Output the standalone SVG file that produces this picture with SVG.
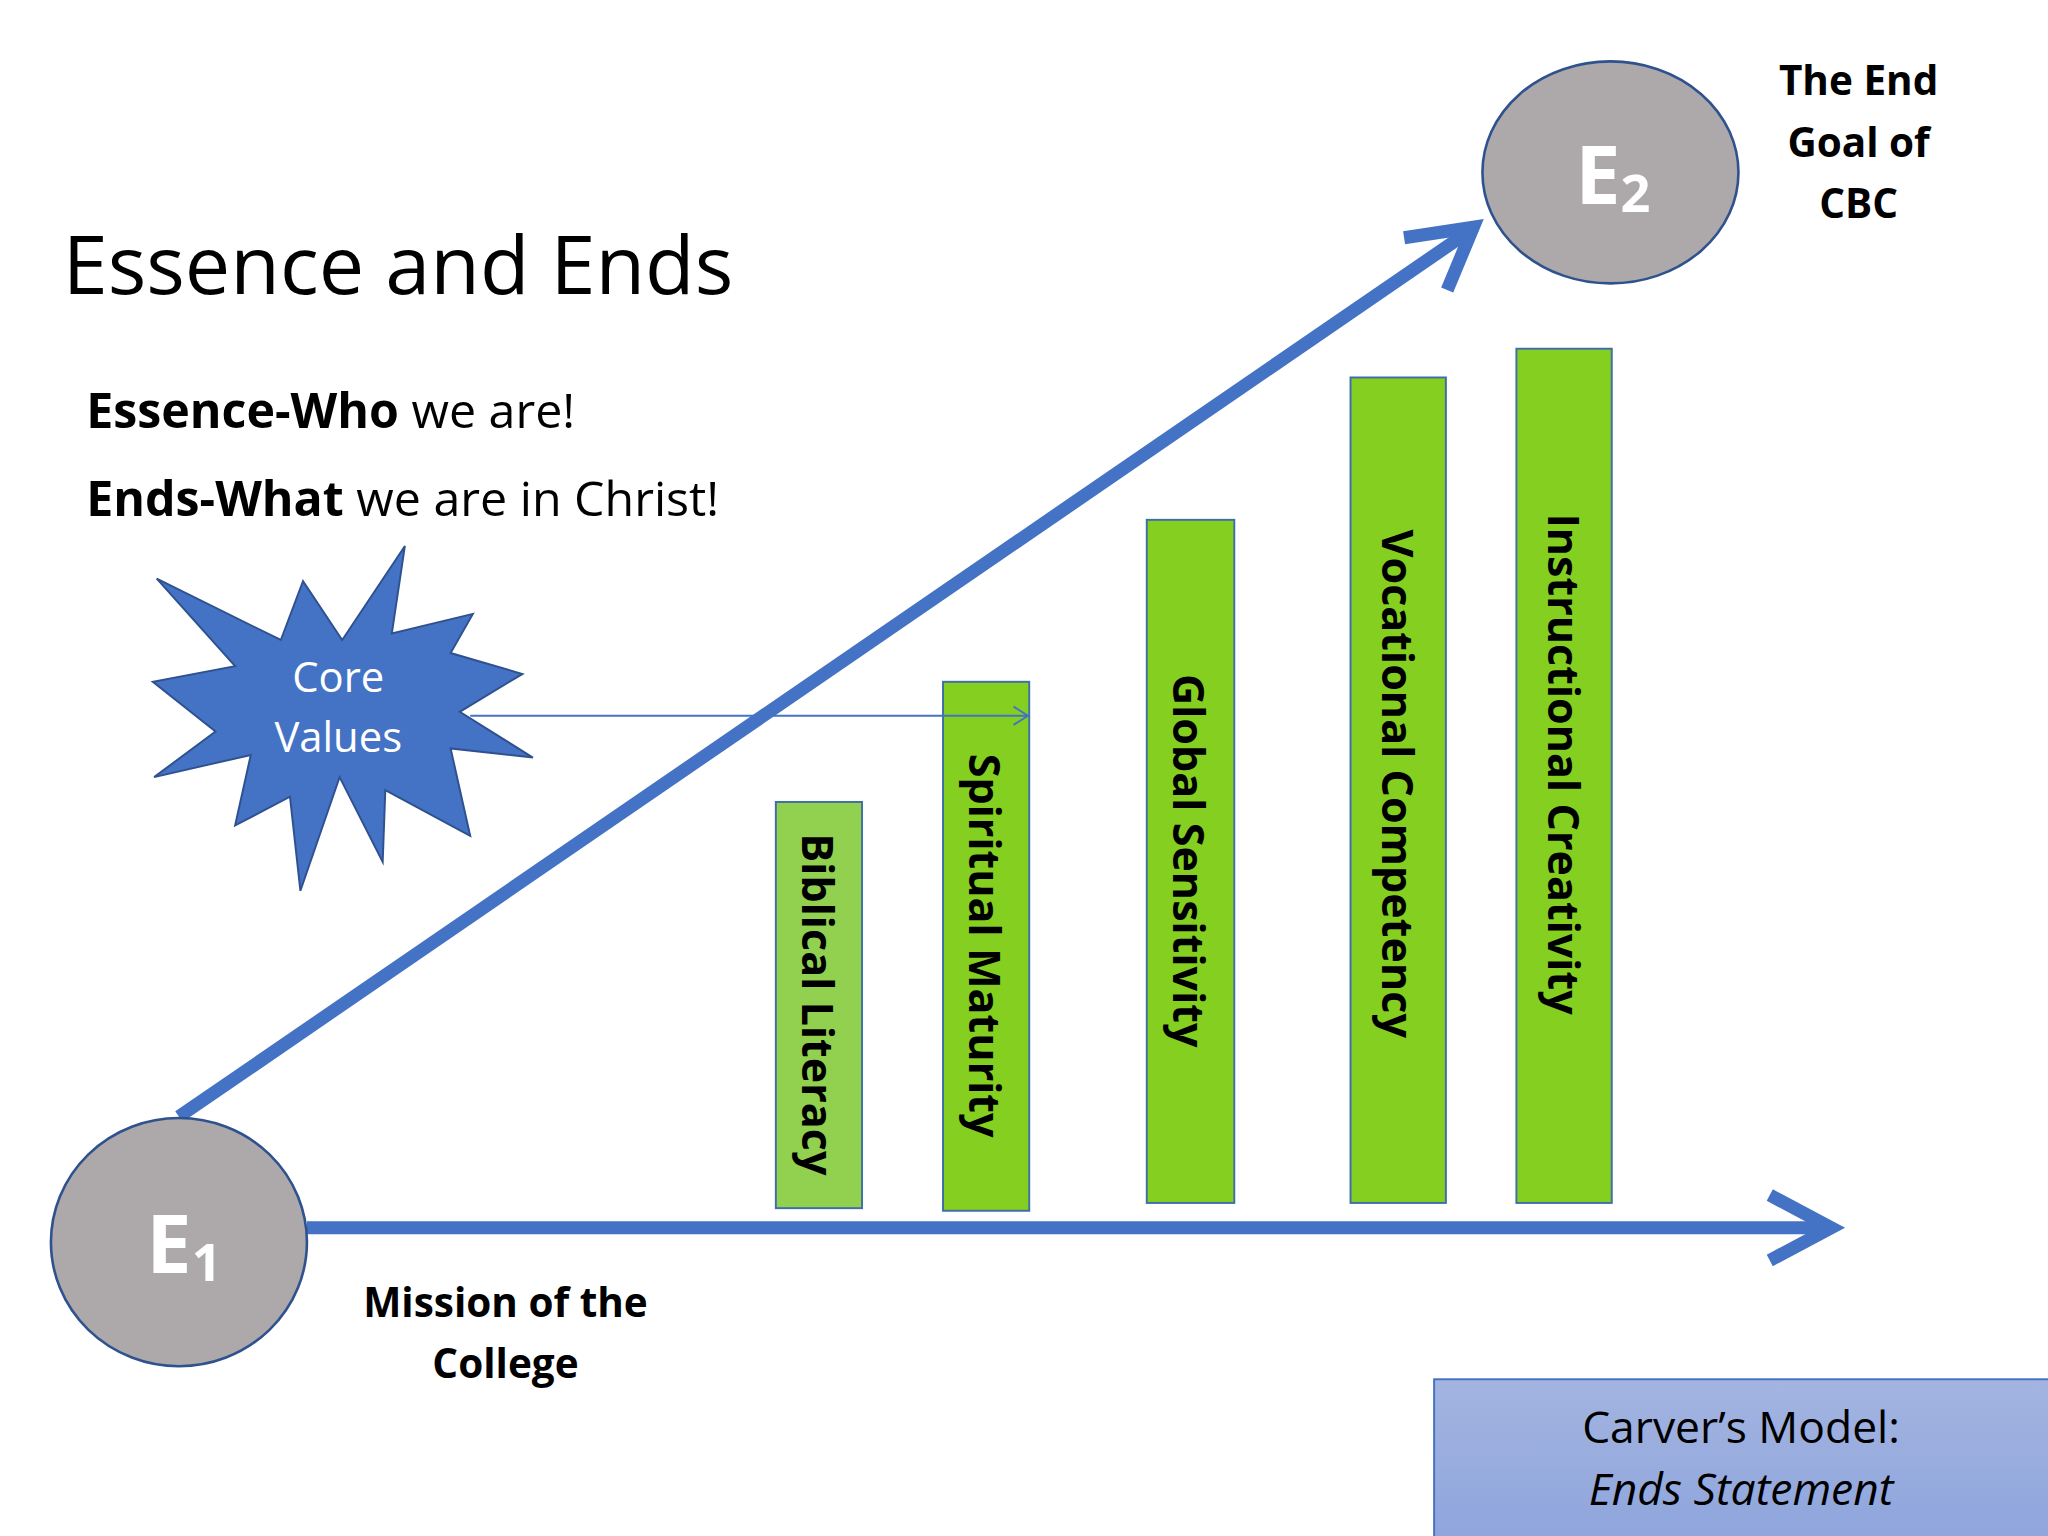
<svg xmlns="http://www.w3.org/2000/svg" width="2048" height="1536" viewBox="0 0 2048 1536">
<style>
text{font-family:"Open Sans","Noto Sans","Liberation Sans",sans-serif;}
.bar{fill:#84CF20;stroke:#3F6FA8;stroke-width:1.5}
.bt{font-weight:bold;font-size:33px;fill:#000}
.blk{font-weight:bold;font-size:31px;fill:#000;text-anchor:middle}
.big{stroke:#4472C4;stroke-width:10;fill:none}
.circ{fill:#ADA9AA;stroke:#2F528F;stroke-width:2}
.et{font-weight:bold;font-size:62px;fill:#fff}
</style>
<rect width="2048" height="1536" fill="#fff"/>
<g transform="scale(1.30612)">
<g id="title"><text x="48" y="225" font-size="62">Essence and Ends</text>
<text x="66" y="328" font-size="37"><tspan font-weight="bold">Essence-Who</tspan> we are!</text>
<text x="66" y="395" font-size="37"><tspan font-weight="bold">Ends-What</tspan> we are in Christ!</text></g>
<g id="bars">
<g id="b1"><rect x="594" y="614" width="66" height="311" class="bar" fill="#92D050" style="fill:#92D050"/><text class="bt" transform="translate(614,769) rotate(90)" text-anchor="middle">Biblical Literacy</text></g>
<g id="b2"><rect x="722" y="522" width="66" height="405" class="bar"/><text class="bt" transform="translate(742,724) rotate(90)" text-anchor="middle">Spiritual Maturity</text></g>
<g id="b3"><rect x="878" y="398" width="67" height="523" class="bar"/><text class="bt" transform="translate(898,659) rotate(90)" text-anchor="middle">Global Sensitivity</text></g>
<g id="b4"><rect x="1034" y="289" width="73" height="632" class="bar"/><text class="bt" transform="translate(1058,600) rotate(90)" text-anchor="middle">Vocational Competency</text></g>
<g id="b5"><rect x="1161" y="267" width="73" height="654" class="bar"/><text class="bt" transform="translate(1185,585) rotate(90)" text-anchor="middle">Instructional Creativity</text></g>
</g>
<g id="connectors">
<line x1="360" y1="548" x2="786" y2="548" stroke="#4472C4" stroke-width="1.5"/>
<polyline points="776,541 787,548 776,555" fill="none" stroke="#4472C4" stroke-width="1.5"/>
<line x1="137" y1="855" x2="1125" y2="177" class="big"/>
<polyline points="1075,182 1128,174 1108,222" class="big" stroke-linejoin="miter"/>
<line x1="235" y1="940" x2="1400" y2="940" class="big"/>
<polyline points="1355,915 1402,940 1355,965" class="big"/>
</g>
<g id="core"><polygon points="120,443 215,490 232,445 262,490 310,418 300,485 362,470 345,500 400,516 352,545 408,580 345,573 360,640 295,605 293,660 260,595 230,682 222,610 180,632 192,578 118,595 165,560 117,522 180,510" fill="#4472C4" stroke="#2F528F" stroke-width="1.5"/>
<text x="259" y="530" font-size="32" fill="#fff" text-anchor="middle">Core</text>
<text x="259" y="576" font-size="32" fill="#fff" text-anchor="middle">Values</text></g>
<g id="e1"><ellipse cx="137" cy="951" rx="98" ry="95" class="circ"/><text x="112" y="975" class="et">E<tspan font-size="40" dy="6">1</tspan></text></g>
<g id="e2"><ellipse cx="1233" cy="132" rx="98" ry="85" class="circ"/><text x="1206" y="156" class="et">E<tspan font-size="40" dy="6">2</tspan></text></g>
<g id="goal"><text x="1423" y="73" class="blk">The End</text><text x="1423" y="120" class="blk">Goal of</text><text x="1423" y="167" class="blk">CBC</text></g>
<g id="mission"><text x="387" y="1008" class="blk">Mission of the</text><text x="387" y="1055" class="blk">College</text></g>
<g id="carver"><defs><linearGradient id="g" x1="0" y1="0" x2="0" y2="1"><stop offset="0" stop-color="#A3B4E0"/><stop offset="1" stop-color="#8DA4DC"/></linearGradient></defs>
<rect x="1098" y="1056" width="480" height="130" fill="url(#g)" stroke="#4472C4" stroke-width="1.5"/>
<text x="1333" y="1105" font-size="34" text-anchor="middle">Carver’s Model:</text>
<text x="1333" y="1152" font-size="34" font-style="italic" text-anchor="middle">Ends Statement</text></g>
</g>
</svg>
